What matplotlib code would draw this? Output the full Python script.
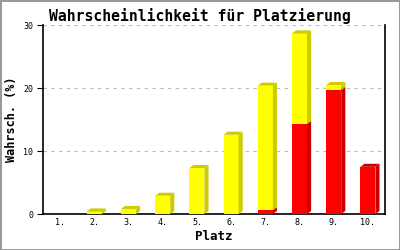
import numpy as np
import matplotlib
matplotlib.use("Agg")
import matplotlib.pyplot as plt

# data
places = ["1.", "2.", "3.", "4.", "5.", "6.", "7.", "8.", "9.", "10."]
red_vals = [0, 0, 0, 0, 0, 0, 0.6, 14.3, 19.7, 7.5]
yellow_vals = [0, 0.4, 0.8, 2.9, 7.3, 12.6, 19.8, 14.4, 0.8, 0]

plt.rcParams['font.family'] = ['DejaVu Sans Mono']

fig = plt.figure(figsize=(4, 2.5), dpi=100)
fig.patch.set_edgecolor('#999999')
fig.patch.set_linewidth(2)
ax = fig.add_axes([0.1075, 0.144, 0.855, 0.755])

x = np.arange(len(places))
w = 0.44
dx = 0.12
dy = 0.48

def bar3d(xc, y0, h, face, side):
    if h <= 0:
        return
    l, r = xc - w / 2, xc + w / 2
    y1 = y0 + h
    ax.fill([l, r, r, l], [y0, y0, y1, y1], color=face, lw=0, zorder=3)
    # right side
    ax.fill([r, r + dx, r + dx, r], [y0, y0 + dy, y1 + dy, y1], color=side, lw=0, zorder=3)
    # top
    ax.fill([l, r, r + dx, l + dx], [y1, y1, y1 + dy, y1 + dy], color=side, lw=0, zorder=3)

for i in range(len(places)):
    bar3d(x[i], 0, red_vals[i], '#ff0000', '#cc0000')
    bar3d(x[i], red_vals[i], yellow_vals[i], '#ffff00', '#cccc00')

ax.set_xlim(-0.5, 9.5)
ax.set_ylim(0, 30)
ax.set_yticks([0, 10, 20, 30])
ax.set_xticks(x)
ax.set_xticklabels(places, fontsize=6)
ax.tick_params(axis='x', length=0, pad=3)
ax.tick_params(axis='y', length=4, labelsize=6, pad=3)
ax.yaxis.grid(True, linestyle=(0, (3, 4)), color='#bbbbbb', lw=0.8)
ax.set_axisbelow(True)
ax.spines['top'].set_visible(False)
for s in ['left', 'right', 'bottom']:
    ax.spines[s].set_linewidth(1.2)

fig.suptitle("Wahrscheinlichkeit für Platzierung", x=0.5, y=0.97, fontsize=10.6, fontweight='bold')
ax.set_xlabel("Platz", fontsize=9, fontweight='bold', labelpad=2)
ax.set_ylabel("Wahrsch. (%)", fontsize=8.5, fontweight='bold', labelpad=4)

fig.savefig("out.png", dpi=100)
